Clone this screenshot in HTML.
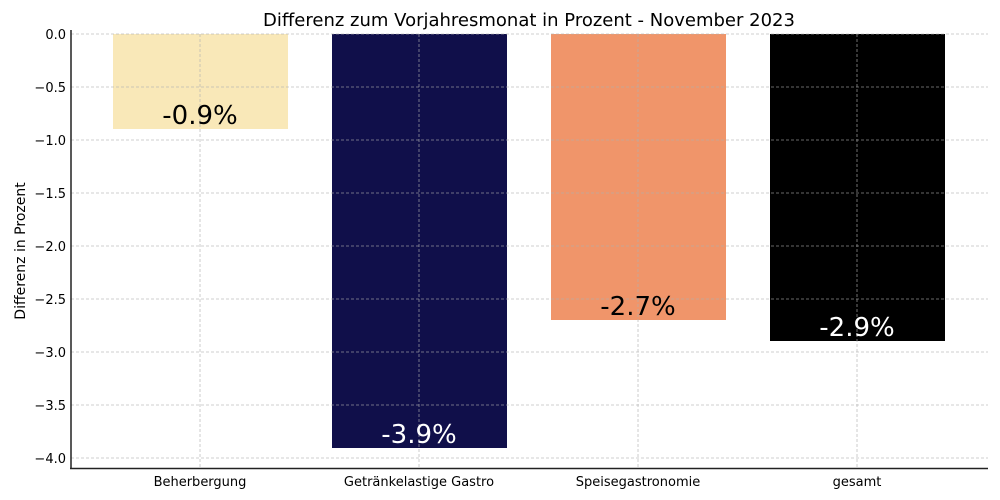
<!DOCTYPE html>
<html><head><meta charset="utf-8"><style>body{margin:0;background:#fff}svg{display:block}text{font-family:"DejaVu Sans","Liberation Sans",sans-serif}</style></head><body>
<svg width="1000" height="500" xmlns="http://www.w3.org/2000/svg">
<rect width="1000" height="500" fill="#fff"/>
<text x="529" y="26" font-size="18" text-anchor="middle">Differenz zum Vorjahresmonat in Prozent - November 2023</text>
<rect x="113" y="34" width="175" height="95" fill="#F9E8B8"/>
<rect x="332" y="34" width="175" height="414" fill="#100F4A"/>
<rect x="551" y="34" width="175" height="286" fill="#F0956A"/>
<rect x="770" y="34" width="175" height="307" fill="#000"/>
<g stroke="#b0b0b0" stroke-width="0.8" stroke-dasharray="3,2" opacity="0.8">
<line x1="71" x2="988" y1="34" y2="34"/><line x1="71" x2="988" y1="87" y2="87"/><line x1="71" x2="988" y1="140" y2="140"/><line x1="71" x2="988" y1="193" y2="193"/><line x1="71" x2="988" y1="246" y2="246"/><line x1="71" x2="988" y1="299" y2="299"/><line x1="71" x2="988" y1="352" y2="352"/><line x1="71" x2="988" y1="405" y2="405"/><line x1="71" x2="988" y1="458" y2="458"/>
<line x1="200" x2="200" y1="34" y2="468"/><line x1="419" x2="419" y1="34" y2="468"/><line x1="638" x2="638" y1="34" y2="468"/><line x1="857" x2="857" y1="34" y2="468"/>
</g>
<line x1="71" y1="30" x2="71" y2="469" stroke="#222" stroke-width="1.5"/>
<line x1="70" y1="468.5" x2="988" y2="468.5" stroke="#222" stroke-width="1.5"/>
<g font-size="13" text-anchor="end">
<text x="66" y="39">0.0</text><text x="66" y="92">−0.5</text><text x="66" y="145">−1.0</text><text x="66" y="198">−1.5</text><text x="66" y="251">−2.0</text><text x="66" y="304">−2.5</text><text x="66" y="357">−3.0</text><text x="66" y="410">−3.5</text><text x="66" y="463">−4.0</text>
</g>
<g font-size="13" text-anchor="middle">
<text x="200" y="486">Beherbergung</text><text x="419" y="486">Getränkelastige Gastro</text><text x="638" y="486">Speisegastronomie</text><text x="857" y="486">gesamt</text>
</g>
<text transform="translate(25,251) rotate(-90)" font-size="14" text-anchor="middle">Differenz in Prozent</text>
<g font-size="26" text-anchor="middle">
<text x="200" y="124" fill="#000">-0.9%</text>
<text x="419" y="443" fill="#fff">-3.9%</text>
<text x="638" y="315" fill="#000">-2.7%</text>
<text x="857" y="336" fill="#fff">-2.9%</text>
</g>
</svg>
</body></html>
